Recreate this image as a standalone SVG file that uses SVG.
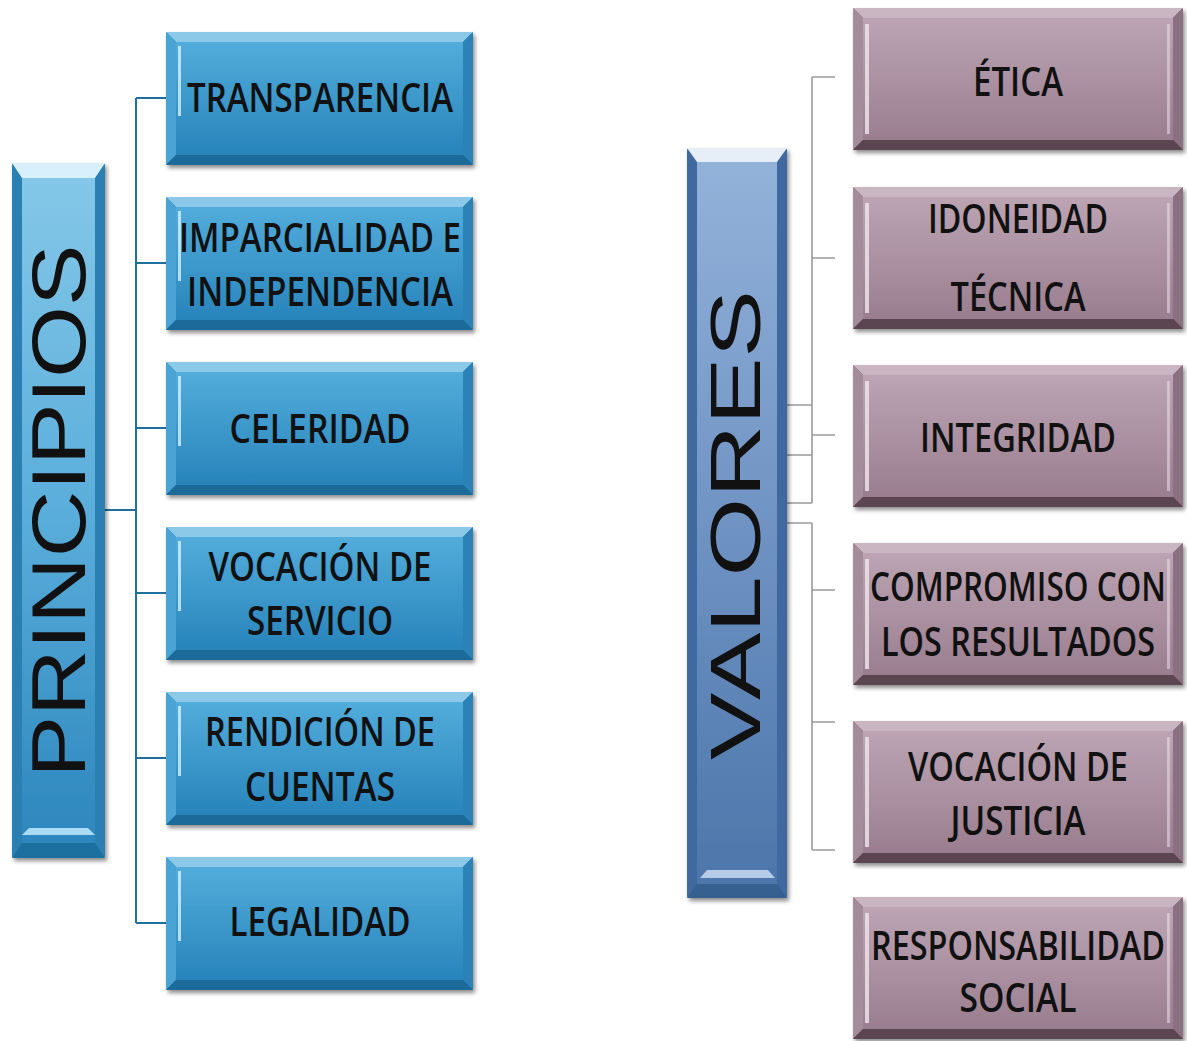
<svg xmlns="http://www.w3.org/2000/svg" width="1187" height="1041" viewBox="0 0 1187 1041">
<defs>
<style>
.lbl{font-family:"Open Sans","Liberation Sans",sans-serif;font-weight:600;font-size:40px;fill:#111;text-anchor:middle}
.big{font-family:"Liberation Sans","DejaVu Sans",sans-serif;font-weight:normal;fill:#111;text-anchor:middle}
.con{stroke:#1f6f9c;stroke-width:2;fill:none}
.con2{stroke:#9a9a9a;stroke-width:1.6;fill:none}
</style>
<filter id="sh" x="-10%" y="-10%" width="125%" height="125%">
<feDropShadow dx="2" dy="3" stdDeviation="2" flood-color="#000" flood-opacity="0.45"/>
</filter>
<linearGradient id="gBlue" x1="0" y1="0" x2="0" y2="1">
<stop offset="0" stop-color="#52acdb"/><stop offset="1" stop-color="#2884bb"/>
</linearGradient>
<linearGradient id="gPrin" x1="0" y1="0" x2="0" y2="1">
<stop offset="0" stop-color="#84c7e8"/><stop offset="0.5" stop-color="#5aaedb"/><stop offset="1" stop-color="#2d86bd"/>
</linearGradient>
<linearGradient id="gVal" x1="0" y1="0" x2="0" y2="1">
<stop offset="0" stop-color="#93b2da"/><stop offset="0.5" stop-color="#6f93c3"/><stop offset="1" stop-color="#4d76ab"/>
</linearGradient>
<linearGradient id="gMauve" x1="0" y1="0" x2="0" y2="1">
<stop offset="0" stop-color="#bca4b3"/><stop offset="1" stop-color="#9a7e8f"/>
</linearGradient>
<g id="blueBox">
<rect x="0" y="0" width="307" height="133" fill="#1d6e9f" rx="2"/>
<polygon points="0,0 307,0 297,10 10,10" fill="#8cc8e8"/>
<polygon points="0,0 10,10 10,123 0,133" fill="#4aa3d4"/>
<polygon points="307,0 297,10 297,123 307,133" fill="#2a82b6"/>
<polygon points="0,133 10,123 297,123 307,133" fill="#1b6a99"/>
<rect x="10" y="10" width="287" height="113" fill="url(#gBlue)"/>
<rect x="12" y="14" width="3" height="70" fill="#d6f0fb" opacity="0.8"/>
</g>
<g id="mauveBox">
<rect x="0" y="0" width="330" height="142" fill="#5f4a57" rx="2"/>
<polygon points="0,0 330,0 320,10 10,10" fill="#c9b6c2"/>
<polygon points="0,0 10,10 10,132 0,142" fill="#a58c9b"/>
<polygon points="330,0 320,10 320,132 330,142" fill="#8a6f80"/>
<polygon points="0,142 10,132 320,132 330,142" fill="#5a4551"/>
<rect x="10" y="10" width="310" height="122" fill="url(#gMauve)"/>
<rect x="12" y="16" width="4" height="110" fill="#f1e6ee" opacity="0.8"/>
<rect x="314" y="16" width="3" height="110" fill="#e6d8e1" opacity="0.6"/>
</g>
</defs>
<rect width="1187" height="1041" fill="#ffffff"/>

<g id="connectors">
<path class="con" d="M136,98 V923 M136,98 H166 M136,263 H166 M136,428 H166 M136,593 H166 M136,758 H166 M136,923 H166 M104,510 H136"/>
<path class="con2" d="M812,77 V503 M812,77 H835 M812,258 H835 M812,435 H835 M787,405 H812 M787,455 H812 M787,503 H812"/>
<path class="con2" d="M812,523 V850 M787,523 H812 M812,590 H835 M812,722 H835 M812,850 H835"/>
</g>

<g id="principios">
<g filter="url(#sh)">
<rect x="12" y="163" width="93" height="695" fill="#2a7fb3" rx="2"/>
<polygon points="12,163 105,163 95,178 22,178" fill="#d8f0fb"/>
<polygon points="12,858 22,843 95,843 105,858" fill="#1f6f9f"/>
<rect x="22" y="178" width="73" height="665" fill="url(#gPrin)"/>
<polygon points="22,835 95,835 88,828 29,828" fill="#a9dcf3"/>
</g>
<text class="big" font-size="76" textLength="533" lengthAdjust="spacingAndGlyphs" transform="translate(85,511) rotate(-90)">PRINCIPIOS</text>
</g>

<g id="valores">
<g filter="url(#sh)">
<rect x="687" y="148" width="100" height="750" fill="#3f6a9f" rx="2"/>
<polygon points="687,148 787,148 777,162 697,162" fill="#e6eef8"/>
<polygon points="687,898 697,884 777,884 787,898" fill="#36608f"/>
<rect x="697" y="162" width="80" height="722" fill="url(#gVal)"/>
<polygon points="700,878 775,878 768,870 707,870" fill="#b6cbe8"/>
</g>
<text class="big" font-size="70" textLength="470" lengthAdjust="spacingAndGlyphs" transform="translate(760,525) rotate(-90)">VALORES</text>
</g>

<g id="transparencia"><use href="#blueBox" x="166" y="32" filter="url(#sh)"/>
<text class="lbl" x="320" y="112" textLength="266" lengthAdjust="spacingAndGlyphs">TRANSPARENCIA</text></g>
<g id="imparcialidad"><use href="#blueBox" x="166" y="197" filter="url(#sh)"/>
<text class="lbl" x="320" y="252" textLength="282" lengthAdjust="spacingAndGlyphs">IMPARCIALIDAD  E</text>
<text class="lbl" x="320" y="306" textLength="266" lengthAdjust="spacingAndGlyphs">INDEPENDENCIA</text></g>
<g id="celeridad"><use href="#blueBox" x="166" y="362" filter="url(#sh)"/>
<text class="lbl" x="320" y="443" textLength="181" lengthAdjust="spacingAndGlyphs">CELERIDAD</text></g>
<g id="vocacion-servicio"><use href="#blueBox" x="166" y="527" filter="url(#sh)"/>
<text class="lbl" x="320" y="581" textLength="223" lengthAdjust="spacingAndGlyphs">VOCACIÓN DE</text>
<text class="lbl" x="320" y="635" textLength="146" lengthAdjust="spacingAndGlyphs">SERVICIO</text></g>
<g id="rendicion"><use href="#blueBox" x="166" y="692" filter="url(#sh)"/>
<text class="lbl" x="320" y="746" textLength="230" lengthAdjust="spacingAndGlyphs">RENDICIÓN DE</text>
<text class="lbl" x="320" y="801" textLength="150" lengthAdjust="spacingAndGlyphs">CUENTAS</text></g>
<g id="legalidad"><use href="#blueBox" x="166" y="857" filter="url(#sh)"/>
<text class="lbl" x="320" y="936" textLength="181" lengthAdjust="spacingAndGlyphs">LEGALIDAD</text></g>

<g id="etica"><use href="#mauveBox" x="853" y="8" filter="url(#sh)"/>
<text class="lbl" x="1018" y="96" textLength="90" lengthAdjust="spacingAndGlyphs">ÉTICA</text></g>
<g id="idoneidad"><use href="#mauveBox" x="853" y="187" filter="url(#sh)"/>
<text class="lbl" x="1018" y="233" textLength="180" lengthAdjust="spacingAndGlyphs">IDONEIDAD</text>
<text class="lbl" x="1018" y="311" textLength="135" lengthAdjust="spacingAndGlyphs">TÉCNICA</text></g>
<g id="integridad"><use href="#mauveBox" x="853" y="365" filter="url(#sh)"/>
<text class="lbl" x="1018" y="452" textLength="196" lengthAdjust="spacingAndGlyphs">INTEGRIDAD</text></g>
<g id="compromiso"><use href="#mauveBox" x="853" y="543" filter="url(#sh)"/>
<text class="lbl" x="1018" y="601" textLength="296" lengthAdjust="spacingAndGlyphs">COMPROMISO CON</text>
<text class="lbl" x="1018" y="656" textLength="274" lengthAdjust="spacingAndGlyphs">LOS RESULTADOS</text></g>
<g id="vocacion-justicia"><use href="#mauveBox" x="853" y="721" filter="url(#sh)"/>
<text class="lbl" x="1018" y="781" textLength="220" lengthAdjust="spacingAndGlyphs">VOCACIÓN DE</text>
<text class="lbl" x="1018" y="835" textLength="135" lengthAdjust="spacingAndGlyphs">JUSTICIA</text></g>
<g id="responsabilidad"><use href="#mauveBox" x="853" y="897" filter="url(#sh)"/>
<text class="lbl" x="1018" y="960" textLength="294" lengthAdjust="spacingAndGlyphs">RESPONSABILIDAD</text>
<text class="lbl" x="1018" y="1012" textLength="117" lengthAdjust="spacingAndGlyphs">SOCIAL</text></g>
</svg>
